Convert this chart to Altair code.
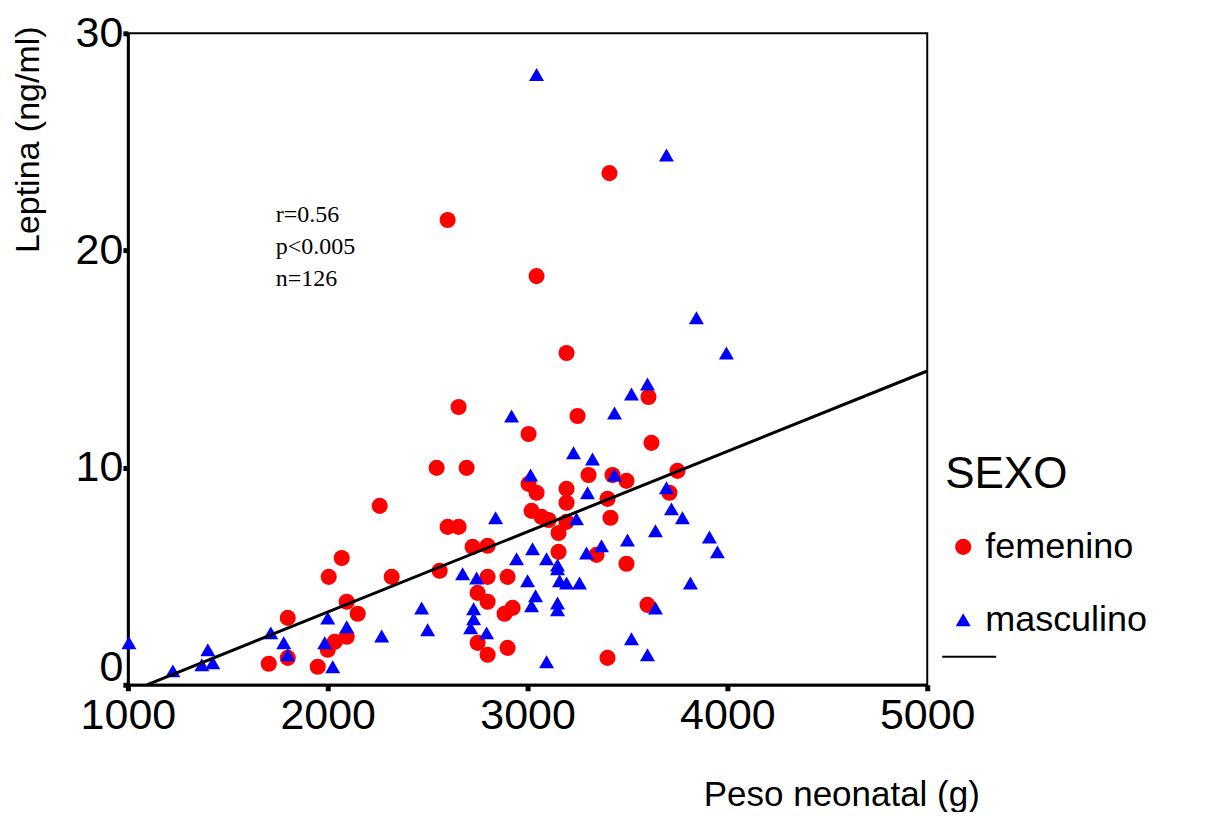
import altair as alt
import pandas as pd

# ---- data ----
fem_peso = [1705, 1800, 1800, 1950, 2005, 2070, 2260, 2320, 2095, 2150, 2035, 2000, 2095,
            2655, 3250, 3005, 3605, 3620, 2545, 2695, 3305, 3425, 3495, 3750, 3710,
            3005, 3045, 3195, 3195, 3400, 3415, 3020, 3070, 3105, 3195, 3155, 3155, 3345, 3495,
            2600, 2655, 2725, 2800, 2560, 2800, 2900, 2750, 2800, 2885, 2925, 2750, 2800, 2900,
            3400, 3600, 2600, 3045, 3410, 3195]
fem_leptina = [0.97, 1.24, 3.08, 0.83, 4.97, 5.84, 8.24, 4.97, 3.82, 3.27, 1.98, 1.61, 2.21,
               12.79, 12.38, 11.55, 13.25, 11.14, 9.99, 9.99, 9.66, 9.66, 9.39, 9.85, 8.84,
               9.25, 8.84, 9.02, 8.38, 8.56, 7.69, 8.01, 7.73, 7.59, 7.50, 6.99, 6.12, 5.98, 5.57,
               7.27, 7.27, 6.35, 6.40, 5.25, 4.97, 4.97, 4.23, 3.82, 3.27, 3.54, 1.93, 1.38, 1.70,
               1.24, 3.68, 21.4, 18.82, 23.56, 15.28]

mas_peso = [1005, 1225, 1370, 1400, 1425, 1715, 1780, 1800, 2000, 1985, 2025, 2095, 2270,
            3045, 3695, 3845, 3995, 3600, 3520,
            3695, 3720, 3775, 3640, 3910, 3950, 3815, 3640, 3600,
            2920, 3435, 3230, 3325, 3015, 3435, 3300, 2840, 3245, 3500, 3370, 3295, 3025, 2945,
            3095, 3150, 3150, 2675, 2745, 3000, 3160, 3195, 3260, 3040, 3020, 3150, 3150, 2470,
            2500, 2730, 2730, 2715, 2795, 3095, 3520]
mas_leptina = [1.93, 0.64, 0.92, 1.61, 1.01, 2.39, 1.93, 1.38, 3.08, 1.93, 0.83, 2.67, 2.25,
               28.1, 24.4, 16.9, 15.28, 13.85, 13.39,
               9.07, 8.1, 7.69, 7.09, 6.81, 6.12, 4.69, 3.54, 1.38,
               12.38, 12.52, 10.68, 10.4, 9.66, 9.66, 8.84, 7.69, 7.64, 6.67, 6.40, 6.07, 6.26, 5.80,
               5.80, 5.52, 5.34, 5.11, 4.92, 4.79, 4.79, 4.69, 4.69, 4.10, 3.64, 3.77, 3.45, 3.54,
               2.53, 3.50, 3.04, 2.62, 2.39, 1.06, 2.12]

sexo_labels = ["femenino", "masculino"]
sexo_colors = ["#ff0000", "#0000ff"]
sexo_shapes = ["circle", "triangle-up"]
sexo_sizes = [260, 225]

fit_peso = [1095, 5000]
fit_leptina = [0.0, 14.45]

x_ticks = [1000, 2000, 3000, 4000, 5000]
y_ticks = [0, 10, 20, 30]
ann_lines = ["r=0.56", "p<0.005", "n=126"]

pts = pd.DataFrame({
    "peso": fem_peso + mas_peso,
    "leptina": fem_leptina + mas_leptina,
    "sexo": ["femenino"] * len(fem_peso) + ["masculino"] * len(mas_peso),
})
fit = pd.DataFrame({"peso": fit_peso, "leptina": fit_leptina})

SANS = "Liberation Sans"

xscale = alt.Scale(domain=[1000, 5000], nice=False, zero=False)
yscale = alt.Scale(domain=[0, 30], nice=False)

xaxis = alt.Axis(values=x_ticks, format="d", title="Peso neonatal (g)", grid=False,
                 labelFontSize=43, labelFont=SANS, labelColor="black", labelPadding=4,
                 tickSize=6, tickWidth=5, tickColor="black",
                 domainColor="black", domainWidth=3,
                 titleFont=SANS, titleFontSize=35, titleFontWeight="normal", titleColor="black",
                 titleX=714, titleY=121, titleAlign="center", titleBaseline="alphabetic",
                 labelFlush=False, labelOverlap=False)
yaxis = alt.Axis(values=y_ticks, format="d", title="Leptina (ng/ml)", grid=False,
                 labelFontSize=43, labelFont=SANS, labelColor="black", labelPadding=0,
                 labelOffset={"condition": {"test": "datum.value === 0", "value": -17}, "value": 0},
                 tickSize=5, tickWidth=5, tickColor="black",
                 domainColor="black", domainWidth=3,
                 titleFont=SANS, titleFontSize=34, titleFontWeight="normal", titleColor="black",
                 titleX=-99, titleY=106, titleAlign="center", titleBaseline="middle",
                 titleAngle=270, labelFlush=False, labelOverlap=False)

leg = alt.Legend(title="SEXO", orient="none", legendX=818, legendY=420,
                 titleFontSize=44, titleFont=SANS, titleFontWeight="normal", titleColor="black",
                 titlePadding=32, labelFontSize=36, labelFont=SANS, labelColor="black",
                 labelLimit=0, symbolStrokeWidth=0, rowPadding=37,
                 labelOffset=4, padding=0)

points = alt.Chart(pts).mark_point(filled=True, opacity=1, strokeWidth=0).encode(
    x=alt.X("peso:Q", scale=xscale, axis=xaxis),
    y=alt.Y("leptina:Q", scale=yscale, axis=yaxis),
    fill=alt.Fill("sexo:N", scale=alt.Scale(domain=sexo_labels, range=sexo_colors), legend=leg),
    shape=alt.Shape("sexo:N", scale=alt.Scale(domain=sexo_labels, range=sexo_shapes), legend=leg),
    size=alt.Size("sexo:N", scale=alt.Scale(domain=sexo_labels, range=sexo_sizes), legend=leg),
)

line = alt.Chart(fit).mark_line(color="black", strokeWidth=3).encode(
    x=alt.X("peso:Q", scale=xscale),
    y=alt.Y("leptina:Q", scale=yscale),
)

ann = alt.Chart(pd.DataFrame({"t": [0]})).mark_text(
    align="left", baseline="alphabetic", font="Liberation Serif", fontSize=24,
    color="black", lineHeight=32
).encode(x=alt.value(148), y=alt.value(189), text=alt.value(ann_lines))

leg_line = alt.Chart(pd.DataFrame({"t": [0]})).mark_rule(color="black", strokeWidth=2).encode(
    x=alt.value(815), x2=alt.value(869), y=alt.value(624)
)

chart = alt.layer(points, line, ann, leg_line).properties(
    width=800, height=652,
    autosize="none",
    padding={"left": 120, "top": 25, "right": 280, "bottom": 127},
).configure_view(stroke="black", strokeWidth=2)

chart.save("out.html", embed_options={"renderer": "svg", "actions": False})
